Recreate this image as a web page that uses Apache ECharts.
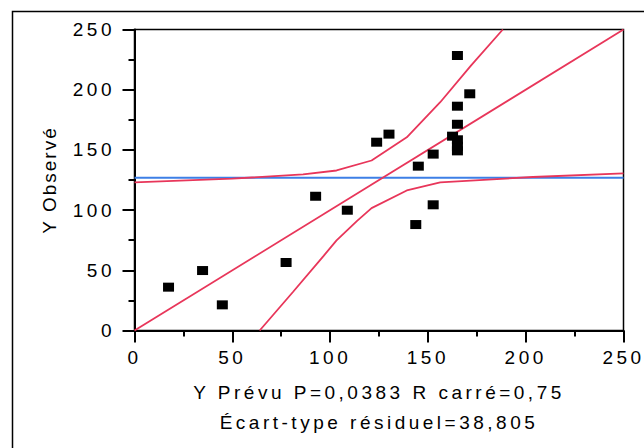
<!DOCTYPE html>
<html>
<head>
<meta charset="utf-8">
<script src="https://cdn.jsdelivr.net/npm/echarts@6/dist/echarts.min.js"></script>
<style>
  html, body { margin: 0; padding: 0; background: #fff; }
  #chart { width: 644px; height: 448px; }
  #chart text { letter-spacing: 3.5px; }
</style>
</head>
<body>
<div id="chart"></div>
<script>
// Data
const predicted = [17.4, 34.8, 44.9, 77.5, 92.6, 108.8, 123.8, 130.1, 143.8, 145.1, 152.7, 152.7, 165.1, 171.4, 165.1, 165.1, 162.6, 165.1, 165.1, 165.1];
const observed  = [36.0, 49.8, 21.3, 56.5, 111.5, 99.9, 156.4, 163.1, 88.0, 136.5, 146.5, 104.4, 228.4, 196.6, 186.3, 171.3, 161.4, 158.4, 153.0, 149.2];

const fitX = [0, 250];
const fitY = [0, 250];

const meanX = [0, 250];
const meanY = [126.8, 126.8];

const upperX = [0, 50, 86.2, 103.3, 121.2, 139.2, 156.3, 172, 188.3];
const upperY = [123.0, 126.1, 129.6, 132.9, 141.2, 160.5, 189.6, 220, 250];

const lowerX = [64, 81, 96.7, 103.3, 113.8, 121.2, 139.2, 156.3, 203.6, 250];
const lowerY = [0, 32, 62, 74.8, 91, 101.6, 116.3, 123.1, 127.5, 130.5];

const xTicks = [0, 50, 100, 150, 200, 250];
const yTicks = [0, 50, 100, 150, 200, 250];

const xName = 'Y Prévu P=0,0383 R carré=0,75\nÉcart-type résiduel=38,805';
const yName = 'Y Observé';

const zip = (a, b) => a.map((v, i) => [v, b[i]]);

const FONT = 'Liberation Sans, Arial, sans-serif';
const RED = '#e8365a';
const BLUE = '#3d7fe6';

const chart = echarts.init(document.getElementById('chart'), null, { renderer: 'svg' });

const axisCommon = {
  type: 'value',
  min: xTicks[0],
  max: xTicks[xTicks.length - 1],
  interval: xTicks[1] - xTicks[0],
  axisLine: { show: true, lineStyle: { color: '#000', width: 2 } },
  axisTick: { show: true, length: 12, lineStyle: { color: '#000', width: 2 } },
  minorTick: { show: true, splitNumber: 2, length: 6, lineStyle: { color: '#000', width: 2 } },
  splitLine: { show: false },
  minorSplitLine: { show: false },
  axisLabel: { color: '#000', fontFamily: FONT, fontSize: 19 }
};

chart.setOption({
  animation: false,
  backgroundColor: '#fff',
  grid: {
    left: 134.5, top: 29.5, right: 20.5, bottom: 117.5,
    show: true, borderColor: '#000', borderWidth: 1.5, backgroundColor: 'transparent'
  },
  graphic: [{
    type: 'rect',
    shape: { x: 12.5, y: 11.5, width: 700, height: 500 },
    style: { fill: 'none', stroke: '#000', lineWidth: 1.5 },
    silent: true
  }],
  xAxis: Object.assign({}, axisCommon, {
    name: xName,
    nameLocation: 'middle',
    nameGap: 47,
    nameTextStyle: { color: '#000', fontFamily: FONT, fontSize: 19, lineHeight: 30 },
    axisLabel: Object.assign({}, axisCommon.axisLabel, { margin: 17 })
  }),
  yAxis: Object.assign({}, axisCommon, {
    min: yTicks[0],
    max: yTicks[yTicks.length - 1],
    interval: yTicks[1] - yTicks[0],
    name: yName,
    nameLocation: 'middle',
    nameGap: 76,
    nameTextStyle: { color: '#000', fontFamily: FONT, fontSize: 19 },
    axisLabel: Object.assign({}, axisCommon.axisLabel, { margin: 19.5 })
  }),
  series: [
    {
      type: 'line', data: zip(meanX, meanY), symbol: 'none',
      lineStyle: { color: BLUE, width: 2 }, z: 2
    },
    {
      type: 'line', data: zip(fitX, fitY), symbol: 'none',
      lineStyle: { color: RED, width: 1.8 }, z: 3
    },
    {
      type: 'line', data: zip(upperX, upperY), symbol: 'none',
      lineStyle: { color: RED, width: 1.8 }, z: 3
    },
    {
      type: 'line', data: zip(lowerX, lowerY), symbol: 'none',
      lineStyle: { color: RED, width: 1.8 }, z: 3
    },
    {
      type: 'scatter', data: zip(predicted, observed), symbol: 'rect',
      symbolSize: [11, 9], itemStyle: { color: '#000', opacity: 1 }, z: 5
    }
  ]
});

// tighter letter spacing for the vertical axis title
chart.getDom().querySelectorAll('text').forEach(function (t) {
  if (t.textContent === yName) t.style.letterSpacing = '2px';
});
</script>
</body>
</html>
